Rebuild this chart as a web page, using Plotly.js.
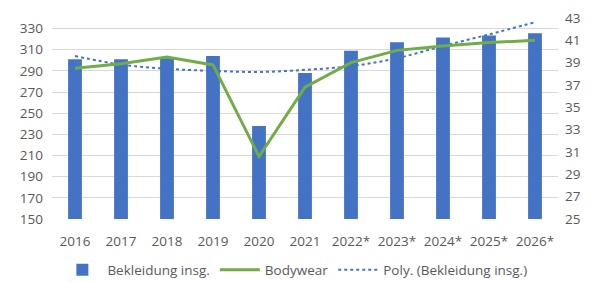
<!DOCTYPE html>
<html>
<head>
<meta charset="utf-8">
<script src="https://cdn.plot.ly/plotly-3.0.1.min.js"></script>
<style>html,body{margin:0;padding:0;background:#fff;}#chart{width:590px;height:282px;}</style>
</head>
<body>
<div id="chart"></div>
<script>
const categories = ["2016","2017","2018","2019","2020","2021","2022*","2023*","2024*","2025*","2026*"];
const bekleidung = [301, 301, 302, 304, 238, 288, 309, 317, 321.5, 323.5, 325.5];
const bodywear = [38.5, 38.9, 39.5, 38.8, 30.6, 36.8, 39.0, 40.1, 40.5, 40.8, 41.0];
const polyTrend = [304, 296, 292, 290, 289, 291, 294.5, 302, 313.5, 324.5, 336];
const leftTicks = [150,170,190,210,230,250,270,290,310,330];
const rightTicks = [25,27,29,31,33,35,37,39,41,43];

const font = {family: "Open Sans, Liberation Sans, sans-serif", size: 13.5, color: "#595959"};

const traces = [
  {type: "bar", x: categories, y: bekleidung, name: "Bekleidung insg.",
   marker: {color: "#4472c4"}, yaxis: "y"},
  {type: "scatter", mode: "lines", x: categories, y: bodywear, name: "Bodywear",
   line: {color: "#70ad47", width: 3}, yaxis: "y2"},
  {type: "scatter", mode: "lines", x: categories, y: polyTrend, name: "Poly. (Bekleidung insg.)",
   line: {color: "#4472c4", width: 2, dash: "dot", shape: "spline"}, yaxis: "y"}
];

const layout = {
  width: 590, height: 282,
  margin: {l: 52, r: 32, t: 18, b: 63},
  paper_bgcolor: "#fff", plot_bgcolor: "#fff",
  font: font,
  bargap: 0.7,
  showlegend: true,
  legend: {orientation: "h", x: 0.48, xanchor: "center", yref: "container", y: 0.043, yanchor: "middle",
           font: font, traceorder: "normal", itemwidth: 40},
  xaxis: {type: "category", showgrid: false, zeroline: false, showline: false,
          ticks: "", tickfont: font, automargin: false, ticklabelstandoff: 12},
  yaxis: {range: [150, 340], tickvals: leftTicks, showgrid: true, gridcolor: "#d9d9d9",
          gridwidth: 1, zeroline: false, showline: false, ticks: "", tickfont: font,
          automargin: false, ticklabelstandoff: 8},
  yaxis2: {range: [25, 43], tickvals: rightTicks, overlaying: "y", side: "right",
           showgrid: false, zeroline: false, showline: false, ticks: "", tickfont: font,
           automargin: false, ticklabelstandoff: 6}
};

Plotly.newPlot("chart", traces, layout, {displayModeBar: false, staticPlot: true});
</script>
</body>
</html>
